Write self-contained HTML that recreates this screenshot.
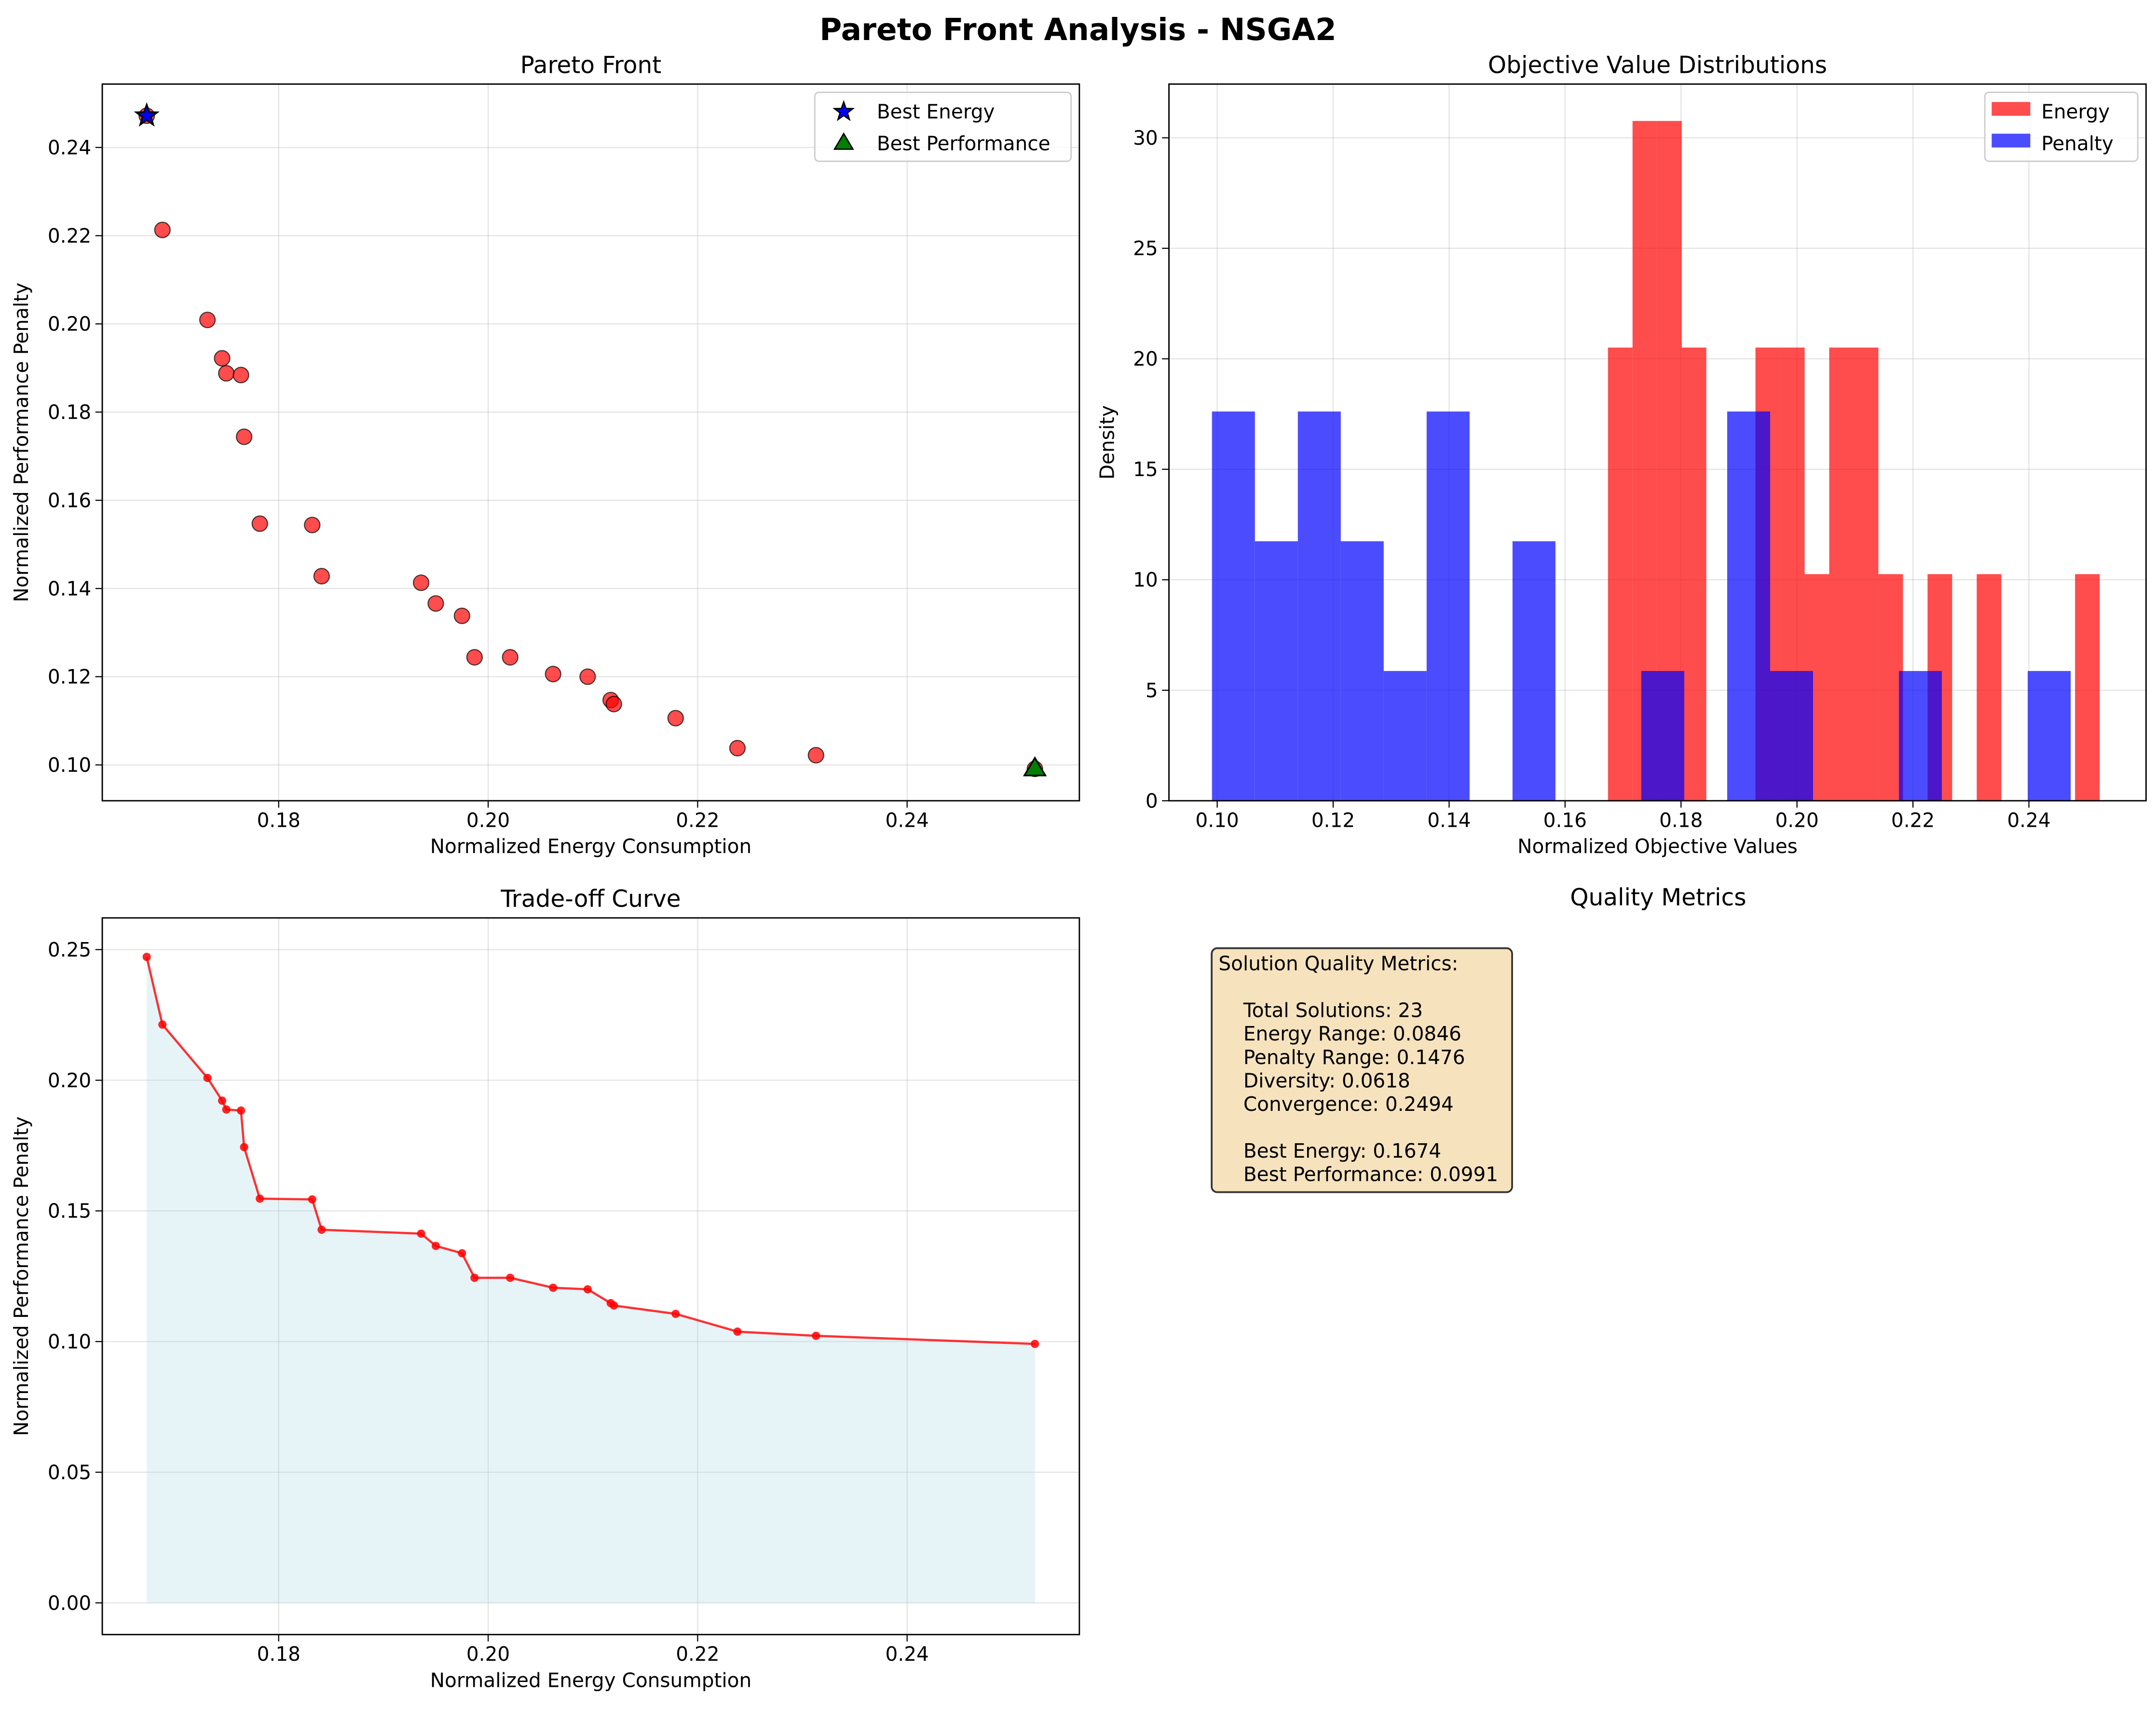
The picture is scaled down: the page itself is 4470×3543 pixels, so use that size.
<!DOCTYPE html>
<html><head><meta charset="utf-8"><style>
html,body{margin:0;padding:0;background:#fff}
svg{display:block}
text{font-family:"DejaVu Sans","Liberation Sans",sans-serif;fill:#000}
</style></head><body>
<svg id="fig" width="4470" height="3543" viewBox="0 0 1564 1240" xmlns="http://www.w3.org/2000/svg">
<rect width="1564" height="1240" fill="#fff"/>
<text x="782" y="29" font-size="22" font-weight="bold" text-anchor="middle">Pareto Front Analysis - NSGA2</text>
<g id="g1"></g>
<g id="g2"></g>
<g id="g3"></g>
<g id="g4">
<text x="1203" y="657" font-size="17" text-anchor="middle">Quality Metrics</text>
<rect x="879" y="688" width="218" height="177" rx="4" fill="#f5deb3" fill-opacity="0.85" stroke="#333" stroke-width="1.3"/>
<g font-size="14.2">
<text x="884" y="704">Solution Quality Metrics:</text>
<text x="902" y="738">Total Solutions: 23</text>
<text x="902" y="755">Energy Range: 0.0846</text>
<text x="902" y="772">Penalty Range: 0.1476</text>
<text x="902" y="789">Diversity: 0.0618</text>
<text x="902" y="806">Convergence: 0.2494</text>
<text x="902" y="840">Best Energy: 0.1674</text>
<text x="902" y="857">Best Performance: 0.0991</text>
</g></g>
</svg>
<script>
const energy=[0.1674,0.1689,0.1732,0.1746,0.1750,0.1764,0.1767,0.1782,0.1832,0.1841,0.1936,0.1950,0.1975,0.1987,0.2021,0.2062,0.2095,0.2117,0.2120,0.2179,0.2238,0.2313,0.2522];
const penalty=[0.2472,0.2213,0.2009,0.1922,0.1888,0.1884,0.1744,0.1547,0.1544,0.1428,0.1413,0.1366,0.1338,0.1244,0.1244,0.1206,0.1200,0.1147,0.1138,0.1106,0.1038,0.1022,0.0991];
const xTicksPF=[0.18,0.20,0.22,0.24];
const yTicksPF=[0.10,0.12,0.14,0.16,0.18,0.20,0.22,0.24];
const xTicksH=[0.10,0.12,0.14,0.16,0.18,0.20,0.22,0.24];
const yTicksH=[0,5,10,15,20,25,30];
const yTicksT=[0.00,0.05,0.10,0.15,0.20,0.25];
const nBins=20;

const NS='http://www.w3.org/2000/svg';
function mk(tag,attrs,parent){const e=document.createElementNS(NS,tag);for(const k in attrs)e.setAttribute(k,attrs[k]);parent.appendChild(e);return e;}
function lin(d0,d1,r0,r1){return v=>r0+(v-d0)*(r1-r0)/(d1-d0);}

function axes(g,L,T,R,B,xs,ys,xt,yt,xfmt,yfmt,title,xl,yl,ylx){
  mk('text',{x:(L+R)/2,y:T-8,'font-size':17,'text-anchor':'middle'},g).textContent=title;
  xt.forEach(v=>{const x=xs(v);
    mk('line',{x1:x,x2:x,y1:T,y2:B,stroke:'#b0b0b0','stroke-opacity':0.35,'stroke-width':0.8},g);
    mk('line',{x1:x,x2:x,y1:B,y2:B+5,stroke:'#000','stroke-width':0.8},g);
    const t=mk('text',{x:x,y:B+19,'font-size':14.2,'text-anchor':'middle'},g);t.textContent=xfmt(v);
    
    });
  yt.forEach(v=>{const y=ys(v);
    mk('line',{x1:L,x2:R,y1:y,y2:y,stroke:'#b0b0b0','stroke-opacity':0.35,'stroke-width':0.8},g);
    mk('line',{x1:L-5,x2:L,y1:y,y2:y,stroke:'#000','stroke-width':0.8},g);
    const t=mk('text',{x:L-8,y:y+5,'font-size':14.2,'text-anchor':'end'},g);t.textContent=yfmt(v);
    
    });
  const xa=mk('text',{x:(L+R)/2,y:B+38,'font-size':14.2,'text-anchor':'middle'},g);xa.textContent=xl;
  
  
  const ya=mk('text',{x:0,y:0,'font-size':14.2,'text-anchor':'middle',transform:`translate(${ylx},${(T+B)/2}) rotate(-90)`},g);ya.textContent=yl;
  
  
}
function frame(g,L,T,R,B){const f=mk('rect',{x:L,y:T,width:R-L,height:B-T,fill:'none',stroke:'#000','stroke-width':1},g);
  
  }
function star(cx,cy,r){let p=[];for(let i=0;i<10;i++){const a=-Math.PI/2+i*Math.PI/5;const rr=i%2?r*0.4:r;p.push((cx+rr*Math.cos(a)).toFixed(2)+','+(cy+rr*Math.sin(a)).toFixed(2));}return p.join(' ');}
function tri(cx,cy,r){return `${cx},${cy-r} ${cx-r*0.95},${cy+r*0.6} ${cx+r*0.95},${cy+r*0.6}`;}

// Panel 1
(function(){const g=document.getElementById('g1');const L=74,T=61,R=783,B=581;
  const xs=lin(0.16,0.24,50,658),ys=lin(0.10,0.24,555,107);
  axes(g,L,T,R,B,xs,ys,xTicksPF,yTicksPF,v=>v.toFixed(2),v=>v.toFixed(2),'Pareto Front','Normalized Energy Consumption','Normalized Performance Penalty',20);
  energy.forEach((e,i)=>{const c=mk('circle',{cx:xs(e),cy:ys(penalty[i]),r:5.6,fill:'rgba(255,0,0,0.7)',stroke:'#000','stroke-opacity':0.7,'stroke-width':0.8},g);
    
    });
  let bi=0,bp=0;energy.forEach((e,i)=>{if(e<energy[bi])bi=i;if(penalty[i]<penalty[bp])bp=i;});
  const s=mk('polygon',{points:star(xs(energy[bi]),ys(penalty[bi]),8),fill:'#0000ff',stroke:'#000','stroke-width':1.2},g);
  
  
  const t=mk('polygon',{points:tri(xs(energy[bp]),ys(penalty[bp]),8),fill:'#008000',stroke:'#000','stroke-width':1.2},g);
  
  
  frame(g,L,T,R,B);
  const lg=mk('g',{},g);
  mk('rect',{x:591,y:67,width:186,height:50,rx:3,fill:'#fff','fill-opacity':0.8,stroke:'#ccc','stroke-width':1},lg);
  mk('polygon',{points:star(612,81,7),fill:'#0000ff',stroke:'#000','stroke-width':1},lg);
  mk('text',{x:636,y:86,'font-size':14.2},lg).textContent='Best Energy';
  mk('polygon',{points:tri(612,104,7),fill:'#008000',stroke:'#000','stroke-width':1},lg);
  mk('text',{x:636,y:109,'font-size':14.2},lg).textContent='Best Performance';
})();

// Panel 2 histograms
(function(){const g=document.getElementById('g2');const L=848,T=61,R=1557,B=581;
  const xs=lin(0.10,0.24,883,1472),ys=lin(0,30,581,100);
  axes(g,L,T,R,B,xs,ys,xTicksH,yTicksH,v=>v.toFixed(2),v=>String(v),'Objective Value Distributions','Normalized Objective Values','Density',808);
  function hist(arr,color,name){const mn=Math.min(...arr),mx=Math.max(...arr),w=(mx-mn)/nBins;const cnt=new Array(nBins).fill(0);
    arr.forEach(v=>{let b=Math.floor((v-mn)/w);if(b>=nBins)b=nBins-1;cnt[b]++;});
    cnt.forEach((c,i)=>{if(!c)return;const d=c/(arr.length*w);const x0=xs(mn+i*w),x1=xs(mn+(i+1)*w);
      const r=mk('rect',{x:x0,y:ys(d),width:x1-x0,height:ys(0)-ys(d),fill:color,'fill-opacity':0.7},g);
      
      });}
  hist(energy,'#ff0000','energy-bar');hist(penalty,'#0000ff','penalty-bar');
  frame(g,L,T,R,B);
  const lg=mk('g',{},g);
  mk('rect',{x:1440,y:67,width:111,height:50,rx:3,fill:'#fff','fill-opacity':0.8,stroke:'#ccc','stroke-width':1},lg);
  mk('rect',{x:1445,y:74,width:28,height:10,fill:'#ff0000','fill-opacity':0.7},lg);
  mk('text',{x:1481,y:86,'font-size':14.2},lg).textContent='Energy';
  mk('rect',{x:1445,y:97,width:28,height:10,fill:'#0000ff','fill-opacity':0.7},lg);
  mk('text',{x:1481,y:109,'font-size':14.2},lg).textContent='Penalty';
})();

// Panel 3 trade-off
(function(){const g=document.getElementById('g3');const L=74,T=666,R=783,B=1186;
  const xs=lin(0.16,0.24,50,658),ys=lin(0,0.25,1163,689);
  axes(g,L,T,R,B,xs,ys,xTicksPF,yTicksT,v=>v.toFixed(2),v=>v.toFixed(2),'Trade-off Curve','Normalized Energy Consumption','Normalized Performance Penalty',20);
  const idx=energy.map((e,i)=>i).sort((a,b)=>energy[a]-energy[b]);
  let pts=idx.map(i=>xs(energy[i]).toFixed(2)+','+ys(penalty[i]).toFixed(2));
  const area=mk('polygon',{points:pts.join(' ')+` ${xs(energy[idx[idx.length-1]])},${ys(0)} ${xs(energy[idx[0]])},${ys(0)}`,fill:'#add8e6','fill-opacity':0.3},g);
  
  
  const ln=mk('polyline',{points:pts.join(' '),fill:'none',stroke:'#ff0000','stroke-opacity':0.8,'stroke-width':1.6},g);
  
  
  idx.forEach(i=>{const c=mk('circle',{cx:xs(energy[i]),cy:ys(penalty[i]),r:3,fill:'#ff0000','fill-opacity':0.85},g);
    
    });
  frame(g,L,T,R,B);
})();
</script>
</body></html>
